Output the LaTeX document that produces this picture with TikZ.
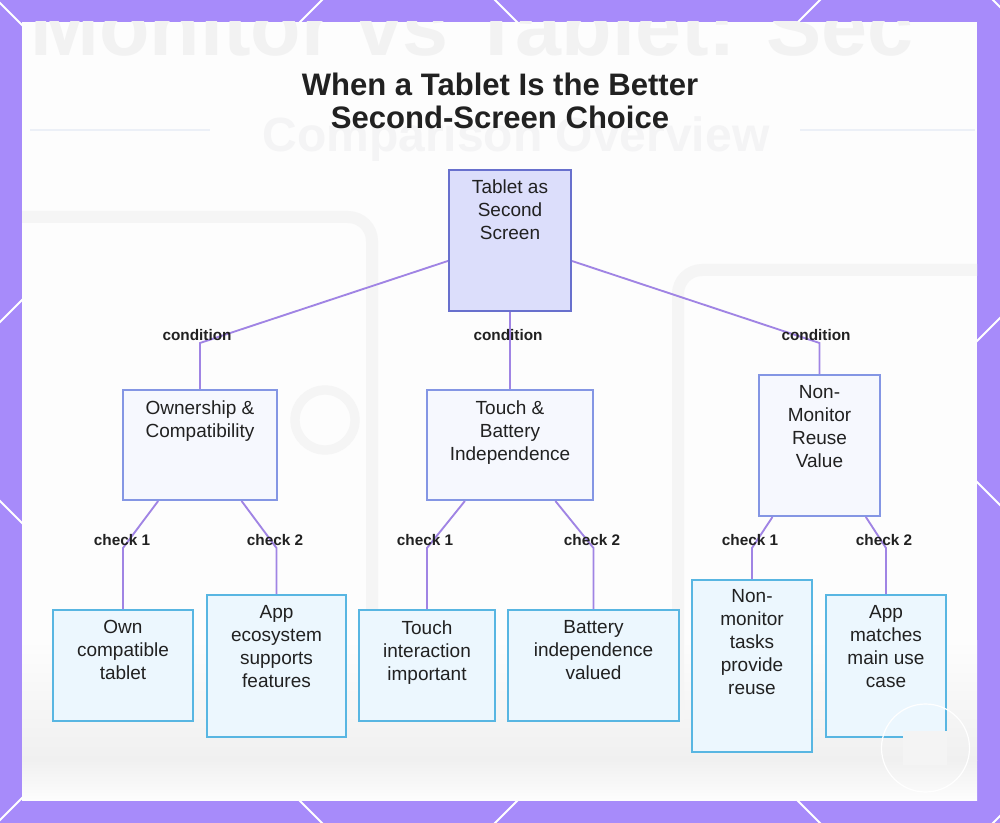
\documentclass[tikz,border=0pt]{standalone}
\usepackage{fontspec}
\setmainfont{Liberation Sans}
\usetikzlibrary{fit,calc}
\definecolor{frame}{RGB}{167,139,250}
\definecolor{panel}{RGB}{253,253,253}
\definecolor{bgtext}{RGB}{242,242,242}
\definecolor{bgtextB}{RGB}{244,244,245}
\definecolor{bgline}{RGB}{236,240,247}
\definecolor{bgshape}{RGB}{245,245,245}
\definecolor{bgfloor}{RGB}{240,240,240}
\definecolor{ink}{RGB}{33,33,33}
\definecolor{rootfill}{RGB}{220,222,251}
\definecolor{rootdraw}{RGB}{104,112,205}
\definecolor{midfill}{RGB}{246,248,254}
\definecolor{middraw}{RGB}{132,150,228}
\definecolor{leaffill}{RGB}{236,247,254}
\definecolor{leafdraw}{RGB}{88,182,226}
\definecolor{conncol}{RGB}{160,132,228}
\definecolor{wmfill}{RGB}{244,244,244}
\tikzset{
  boxbase/.style={inner sep=0pt, line width=1.5pt},
  rootbox/.style={boxbase, draw=rootdraw, fill=rootfill},
  midbox/.style={boxbase, draw=middraw, fill=midfill},
  leafbox/.style={boxbase, draw=leafdraw, fill=leaffill},
  boxtext/.style={anchor=north, inner sep=0pt, align=center, text=ink,
    font=\fontsize{14.25}{17.25}\selectfont},
  edgelabel/.style={inner sep=0pt, text=ink, font=\fontsize{11.5}{13}\selectfont\bfseries},
  conn/.style={draw=conncol, line width=1.4pt},
  titletext/.style={align=center, text=ink, inner sep=0pt,
    font=\fontsize{23.3}{24.75}\selectfont\bfseries}
}
\begin{document}
\begin{tikzpicture}[x=0.75pt,y=-0.75pt]
\useasboundingbox (0,0) rectangle (1000,823);
% purple frame with diagonal white lines
\fill[frame] (0,0) rectangle (1000,823);
\begin{scope}
  \clip (0,0) rectangle (1000,823);
  \foreach \c in {-993,-495,3,501}
    \draw[white, line width=1.4pt] (-60,{\c-60}) -- (1060,{\c+1060});
  \foreach \c in {322,820,1318,1816}
    \draw[white, line width=1.4pt] (-60,{\c+60}) -- (1060,{\c-1060});
\end{scope}
% white panel with faint background picture
\fill[panel] (22,22) rectangle (977,800);
\begin{scope}
  \clip (22,22) rectangle (977,800);
  \shade[top color=panel, bottom color=bgfloor] (22,640) rectangle (977,760);
  \shade[top color=bgfloor, bottom color=panel] (22,760) rectangle (977,800);
  \draw[bgshape, line width=9pt, rounded corners=18pt] (5,217) -- (372,217) -- (372,610);
  \draw[bgshape, line width=9pt, rounded corners=18pt] (990,270) -- (678,270) -- (678,720);
  \draw[bgshape, line width=7pt] (325,420) circle (30);
  \draw[bgline, line width=2pt] (30,130) -- (210,130);
  \draw[bgline, line width=2pt] (800,130) -- (975,130);
  \node[anchor=base west, inner sep=0pt, text=bgtext,
    font=\fontsize{62}{62}\selectfont\bfseries] (bgA) at (30,56) {Monitor vs Tablet: Sec};
  \node[anchor=base, inner sep=0pt, text=bgtextB,
    font=\fontsize{36}{36}\selectfont\bfseries] (bgB) at (516,152) {Comparison Overview};
\end{scope}
% title
\node[titletext] (title) at (500,101) {When a Tablet Is the Better\\Second-Screen Choice};
% boxes
\node[rootbox, fit={(449,170) (571,311)}] (root) {};
\node[midbox, fit={(123,390) (277,500)}] (own) {};
\node[midbox, fit={(427,390) (593,500)}] (touch) {};
\node[midbox, fit={(759,375) (880,516)}] (reuse) {};
\node[leafbox, fit={(53,610) (193,721)}] (l1) {};
\node[leafbox, fit={(207,595) (346,737)}] (l2) {};
\node[leafbox, fit={(359,610) (495,721)}] (l3) {};
\node[leafbox, fit={(508,610) (679,721)}] (l4) {};
\node[leafbox, fit={(692,580) (812,752)}] (l5) {};
\node[leafbox, fit={(826,595) (946,737)}] (l6) {};
% box texts
\node[boxtext] (rootT) at ($(root.north)+(0,10)$) {Tablet as\\Second\\Screen};
\node[boxtext] (ownT) at ($(own.north)+(0,11)$) {Ownership \&\\Compatibility};
\node[boxtext] (touchT) at ($(touch.north)+(0,11)$) {Touch \&\\Battery\\Independence};
\node[boxtext] (reuseT) at ($(reuse.north)+(0,11)$) {Non-\\Monitor\\Reuse\\Value};
\node[boxtext] (l1T) at ($(l1.north)+(0,11)$) {Own\\compatible\\tablet};
\node[boxtext] (l2T) at ($(l2.north)+(0,11)$) {App\\ecosystem\\supports\\features};
\node[boxtext] (l3T) at ($(l3.north)+(0,11)$) {Touch\\interaction\\important};
\node[boxtext] (l4T) at ($(l4.north)+(0,11)$) {Battery\\independence\\valued};
\node[boxtext] (l5T) at ($(l5.north)+(0,10)$) {Non-\\monitor\\tasks\\provide\\reuse};
\node[boxtext] (l6T) at ($(l6.north)+(0,11)$) {App\\matches\\main use\\case};
% bend points
\coordinate (b1) at (200,343);
\coordinate (b2) at (510,343);
\coordinate (b3) at (819.5,343);
\coordinate (k1) at (123,548);
\coordinate (k2) at (276.5,548);
\coordinate (k3) at (427,548);
\coordinate (k4) at (593.5,548);
\coordinate (k5) at (752,548);
\coordinate (k6) at (886,548);
% connectors
\draw[conn] (root) -- (b1) -- (own.north);
\draw[conn] (root.south) -- (touch.north);
\draw[conn] (root) -- (b3) -- (reuse.north);
\draw[conn] (own) -- (k1) -- (l1.north);
\draw[conn] (own) -- (k2) -- (l2.north);
\draw[conn] (touch) -- (k3) -- (l3.north);
\draw[conn] (touch) -- (k4) -- (l4.north);
\draw[conn] (reuse) -- (k5) -- (l5.north);
\draw[conn] (reuse) -- (k6) -- (l6.north);
% connector labels
\node[edgelabel] (e1) at (197,335) {condition};
\node[edgelabel] (e2) at (508,335) {condition};
\node[edgelabel] (e3) at (816,335) {condition};
\node[edgelabel] (f1) at (122,540) {check 1};
\node[edgelabel] (f2) at (275,540) {check 2};
\node[edgelabel] (f3) at (425,540) {check 1};
\node[edgelabel] (f4) at (592,540) {check 2};
\node[edgelabel] (f5) at (750,540) {check 1};
\node[edgelabel] (f6) at (884,540) {check 2};
% watermark
\fill[wmfill] (903,731) rectangle (947,765);
\draw[white, line width=0.9pt] (925.5,748) circle (44);
\end{tikzpicture}
\end{document}
